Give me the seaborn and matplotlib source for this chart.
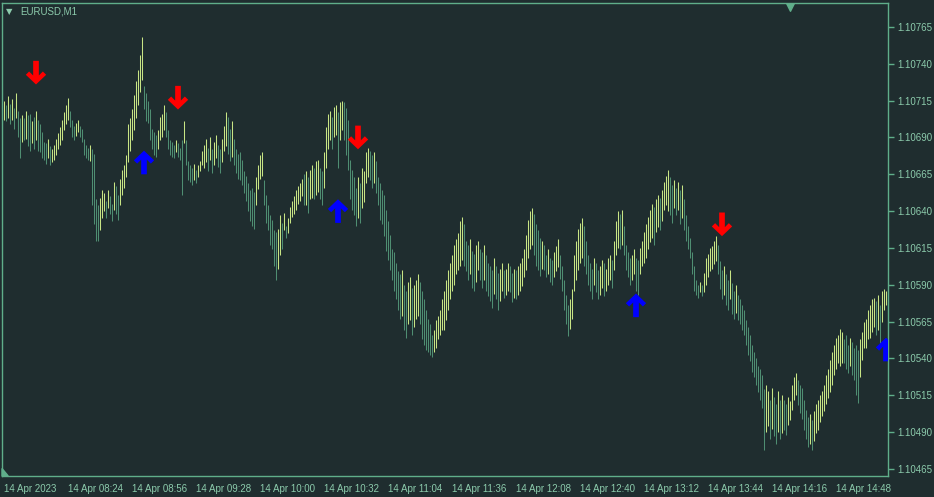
import numpy as np
import pandas as pd
import matplotlib
matplotlib.use('Agg')
from matplotlib import pyplot as plt
from matplotlib.path import Path
import seaborn as sns

# EURUSD M1, prices stored as points above 1.10000 (1 point = 0.00001)
BASE = 1.1
PT = 0.00001

high_pts = [
    715, 712, 718, 713, 716, 710, 720, 708, 703, 705,
    703, 708, 705, 706, 701, 704, 708, 702, 699, 694,
    687, 686, 689, 684, 682, 685, 689, 693, 697, 702,
    707, 712, 717, 708, 702, 698, 700, 702, 698, 696,
    689, 685, 683, 685, 682, 679, 648, 644, 649, 654,
    652, 647, 654, 650, 645, 660, 657, 651, 662, 668,
    671, 678, 699, 703, 709, 719, 728, 736, 746, 758,
    725, 720, 715, 709, 696, 694, 692, 695, 704, 706,
    712, 707, 695, 688, 687, 685, 688, 686, 683, 688,
    701, 688, 674, 671, 669, 672, 668, 671, 674, 681,
    685, 689, 683, 690, 682, 687, 692, 685, 682, 689,
    698, 707, 704, 696, 701, 689, 682, 679, 680, 675,
    667, 664, 659, 654, 656, 653, 663, 671, 678, 680,
    661, 651, 644, 637, 634, 627, 626, 628, 637, 632,
    639, 630, 635, 643, 647, 650, 654, 657, 659, 662,
    665, 667, 663, 668, 671, 669, 674, 675, 669, 667,
    680, 697, 706, 708, 704, 711, 712, 707, 714, 715,
    714, 710, 702, 675, 668, 663, 656, 663, 659, 669,
    667, 680, 683, 681, 678, 680, 674, 663, 659, 654,
    651, 641, 633, 624, 614, 612, 605, 599, 597, 600,
    590, 586, 592, 595, 588, 590, 593, 597, 592, 586,
    580, 573, 567, 563, 556, 559, 566, 569, 573, 580,
    586, 593, 600, 605, 610, 617, 621, 625, 633, 636,
    631, 620, 617, 621, 613, 611, 617, 620, 614, 612,
    617, 610, 605, 603, 600, 608, 603, 598, 601, 605,
    600, 601, 605, 603, 598, 601, 600, 603, 605, 608,
    614, 624, 634, 640, 642, 638, 631, 627, 622, 620,
    617, 610, 614, 608, 607, 612, 616, 621, 610, 603,
    593, 583, 576, 580, 587, 610, 620, 628, 632, 635,
    630, 620, 610, 605, 601, 608, 605, 600, 603, 607,
    605, 601, 608, 610, 607, 620, 633, 640, 638, 641,
    630, 617, 612, 608, 610, 614, 608, 607, 615, 620,
    626, 631, 636, 641, 645, 643, 648, 651, 649, 654,
    660, 664, 668, 663, 658, 661, 656, 660, 654, 658,
    648, 637, 630, 622, 612, 603, 593, 590, 592, 590,
    598, 608, 611, 615, 616, 620, 623, 617, 606, 600,
    603, 597, 593, 600, 591, 586, 590, 583, 580, 576,
    573, 566, 561, 556, 549, 544, 540, 535, 533, 529,
    519, 522, 518, 512, 520, 514, 509, 518, 512, 515,
    512, 509, 514, 511, 522, 527, 530, 525, 522, 520,
    512, 505, 500, 502, 498, 504, 509, 512, 515, 518,
    522, 529, 533, 539, 544, 549, 554, 556, 560, 558,
    553, 556, 549, 554, 551, 547, 549, 546, 553, 558,
    565, 567, 573, 576, 580, 581, 579, 583, 576, 586,
    587, 586,
]

low_pts = [
    702, 701, 703, 699, 702, 696, 703, 690, 676, 687,
    688, 689, 684, 681, 686, 682, 688, 681, 680, 676,
    675, 672, 676, 671, 673, 675, 678, 682, 685, 688,
    695, 699, 702, 697, 690, 688, 691, 694, 690, 687,
    678, 676, 675, 674, 644, 631, 620, 620, 627, 635,
    640, 635, 642, 638, 633, 641, 638, 634, 644, 651,
    656, 663, 673, 681, 688, 695, 703, 712, 721, 729,
    709, 701, 700, 688, 682, 678, 677, 682, 688, 690,
    695, 690, 682, 678, 677, 676, 680, 677, 675, 651,
    686, 671, 661, 660, 658, 661, 659, 663, 667, 671,
    669, 673, 667, 675, 666, 671, 676, 670, 666, 673,
    681, 684, 679, 674, 677, 671, 666, 662, 661, 658,
    652, 647, 640, 633, 630, 628, 644, 655, 662, 664,
    644, 632, 627, 617, 614, 603, 593, 601, 610, 614,
    627, 622, 625, 632, 636, 638, 641, 645, 647, 650,
    644, 644, 639, 648, 649, 648, 651, 653, 648, 644,
    656, 669, 682, 688, 682, 690, 692, 669, 688, 695,
    688, 678, 668, 648, 641, 637, 630, 635, 632, 642,
    646, 659, 663, 661, 656, 659, 652, 644, 634, 631,
    623, 613, 607, 600, 593, 586, 580, 573, 567, 569,
    559, 554, 563, 566, 556, 561, 567, 569, 563, 553,
    549, 546, 544, 542, 541, 544, 547, 553, 556, 559,
    559, 566, 573, 580, 586, 590, 597, 600, 603, 607,
    603, 599, 593, 597, 588, 586, 592, 600, 593, 588,
    593, 586, 582, 579, 574, 584, 580, 573, 579, 586,
    581, 583, 586, 585, 578, 581, 580, 583, 586, 589,
    595, 600, 608, 614, 617, 610, 603, 600, 596, 601,
    600, 595, 597, 592, 590, 595, 599, 602, 594, 586,
    573, 563, 555, 560, 567, 586, 593, 600, 605, 608,
    603, 597, 590, 586, 580, 590, 585, 580, 583, 588,
    582, 586, 590, 593, 588, 600, 610, 615, 614, 617,
    610, 600, 595, 590, 593, 597, 586, 583, 597, 603,
    605, 608, 614, 619, 622, 617, 626, 629, 627, 633,
    641, 644, 640, 637, 632, 642, 637, 641, 631, 635,
    627, 620, 614, 608, 597, 586, 583, 581, 585, 582,
    585, 590, 595, 599, 601, 604, 606, 597, 587, 580,
    583, 576, 573, 580, 570, 567, 571, 566, 563, 559,
    556, 549, 542, 538, 531, 527, 522, 517, 512, 506,
    478, 490, 494, 485, 492, 487, 482, 490, 485, 489,
    491, 488, 495, 498, 505, 512, 515, 508, 503, 499,
    491, 485, 480, 482, 478, 484, 489, 491, 497, 501,
    504, 509, 513, 517, 522, 529, 533, 537, 535, 537,
    537, 533, 530, 535, 529, 525, 515, 510, 527, 539,
    547, 547, 553, 554, 558, 561, 556, 559, 547, 565,
    573, 576,
]

# signal arrows: bar index and price level (points)
sell_bars = [16, 87, 177, 359]
sell_pts = [734, 717, 690, 631]
buy_bars = [70, 167, 316, 441]
buy_pts = [673, 640, 576, 546]

time_labels = ['14 Apr 2023', '14 Apr 08:24', '14 Apr 08:56', '14 Apr 09:28',
               '14 Apr 10:00', '14 Apr 10:32', '14 Apr 11:04', '14 Apr 11:36',
               '14 Apr 12:08', '14 Apr 12:40', '14 Apr 13:12', '14 Apr 13:44',
               '14 Apr 14:16', '14 Apr 14:48']
time_tick_bars = [0, 32, 64, 96, 128, 160, 192, 224, 256, 288, 320, 352, 384, 416]
price_ticks = [1.10465, 1.10490, 1.10515, 1.10540, 1.10565, 1.10590, 1.10615,
               1.10640, 1.10665, 1.10690, 1.10715, 1.10740, 1.10765]

BG = '#1f2d2f'
GRIDC = '#5fae8a'
TXT = '#8ccbac'
UPC = '#c8e585'
DNC = '#4f8e72'

df = pd.DataFrame({'bar': np.arange(len(high_pts)),
                   'high': BASE + np.array(high_pts) * PT,
                   'low': BASE + np.array(low_pts) * PT})
mid = (df['high'] + df['low']) / 2
df['up'] = mid.diff().fillna(0) >= 0

sig = pd.DataFrame({'bar': sell_bars + buy_bars,
                    'price': [BASE + p * PT for p in sell_pts + buy_pts],
                    'signal': ['sell'] * len(sell_bars) + ['buy'] * len(buy_bars)})

down_verts = [(-0.24, 1.0), (0.24, 1.0), (0.24, -0.24), (0.58, 0.1), (0.86, -0.18),
              (0.0, -1.0), (-0.86, -0.18), (-0.58, 0.1), (-0.24, -0.24), (-0.24, 1.0)]
codes = [Path.MOVETO] + [Path.LINETO] * 8 + [Path.CLOSEPOLY]
down_arrow = Path(down_verts, codes)
up_arrow = Path([(x, -y) for x, y in down_verts], codes)

sns.set_theme(style='dark', rc={'axes.facecolor': BG, 'figure.facecolor': BG,
                                'axes.edgecolor': GRIDC, 'text.color': TXT,
                                'xtick.color': GRIDC, 'ytick.color': GRIDC})
plt.rcParams['font.family'] = ['Liberation Sans', 'DejaVu Sans']

fig = plt.figure(figsize=(9.34, 4.97), dpi=100)
ax = fig.add_axes([2 / 934, 21 / 497, 886 / 934, 473 / 497])

dn = df[~df['up']]
upb = df[df['up']]
ax.vlines(dn['bar'], dn['low'], dn['high'], color=DNC, lw=0.75)
ax.vlines(upb['bar'], upb['low'], upb['high'], color=UPC, lw=0.75)

sns.scatterplot(data=sig, x='bar', y='price', hue='signal', style='signal',
                palette={'sell': '#ff0000', 'buy': '#0000ff'},
                markers={'sell': down_arrow, 'buy': up_arrow},
                s=290, linewidth=0, legend=False, ax=ax, zorder=5)

ax.set_xlim(-1, 442)
ax.set_ylim(1.104601, 1.107813)
ax.set_xlabel('')
ax.set_ylabel('')
ax.grid(False)

ax.yaxis.tick_right()
ax.set_yticks(price_ticks)
ax.set_yticklabels(['%.5f' % p for p in price_ticks])
ax.set_xticks(time_tick_bars)
ax.set_xticklabels(time_labels, ha='left')
ax.tick_params(axis='both', direction='out', length=4, width=1, colors=GRIDC,
               labelcolor=TXT, labelsize=7, pad=2)
ax.tick_params(axis='y', pad=3)
for s in ax.spines.values():
    s.set_color(GRIDC)
    s.set_linewidth(1)

# symbol caption in top-left corner
ax.text(0.0045, 0.982, '\u25bc', transform=ax.transAxes, fontsize=6, color=TXT,
        va='center', ha='left', family='DejaVu Sans')
ax.text(0.0205, 0.982, 'EURUSD,M1', transform=ax.transAxes, fontsize=7,
        color=TXT, va='center', ha='left')
# chart shift marker at top and corner marker bottom-left
ax.scatter([0.8895], [0.992], marker='v', s=30, color=GRIDC, transform=ax.transAxes,
           clip_on=False, zorder=6)
ax.fill([0.0, 0.0, 0.007], [0.0, 0.016, 0.0], color=GRIDC, transform=ax.transAxes,
        clip_on=False)

fig.savefig('out.png', dpi=100, facecolor=BG)
